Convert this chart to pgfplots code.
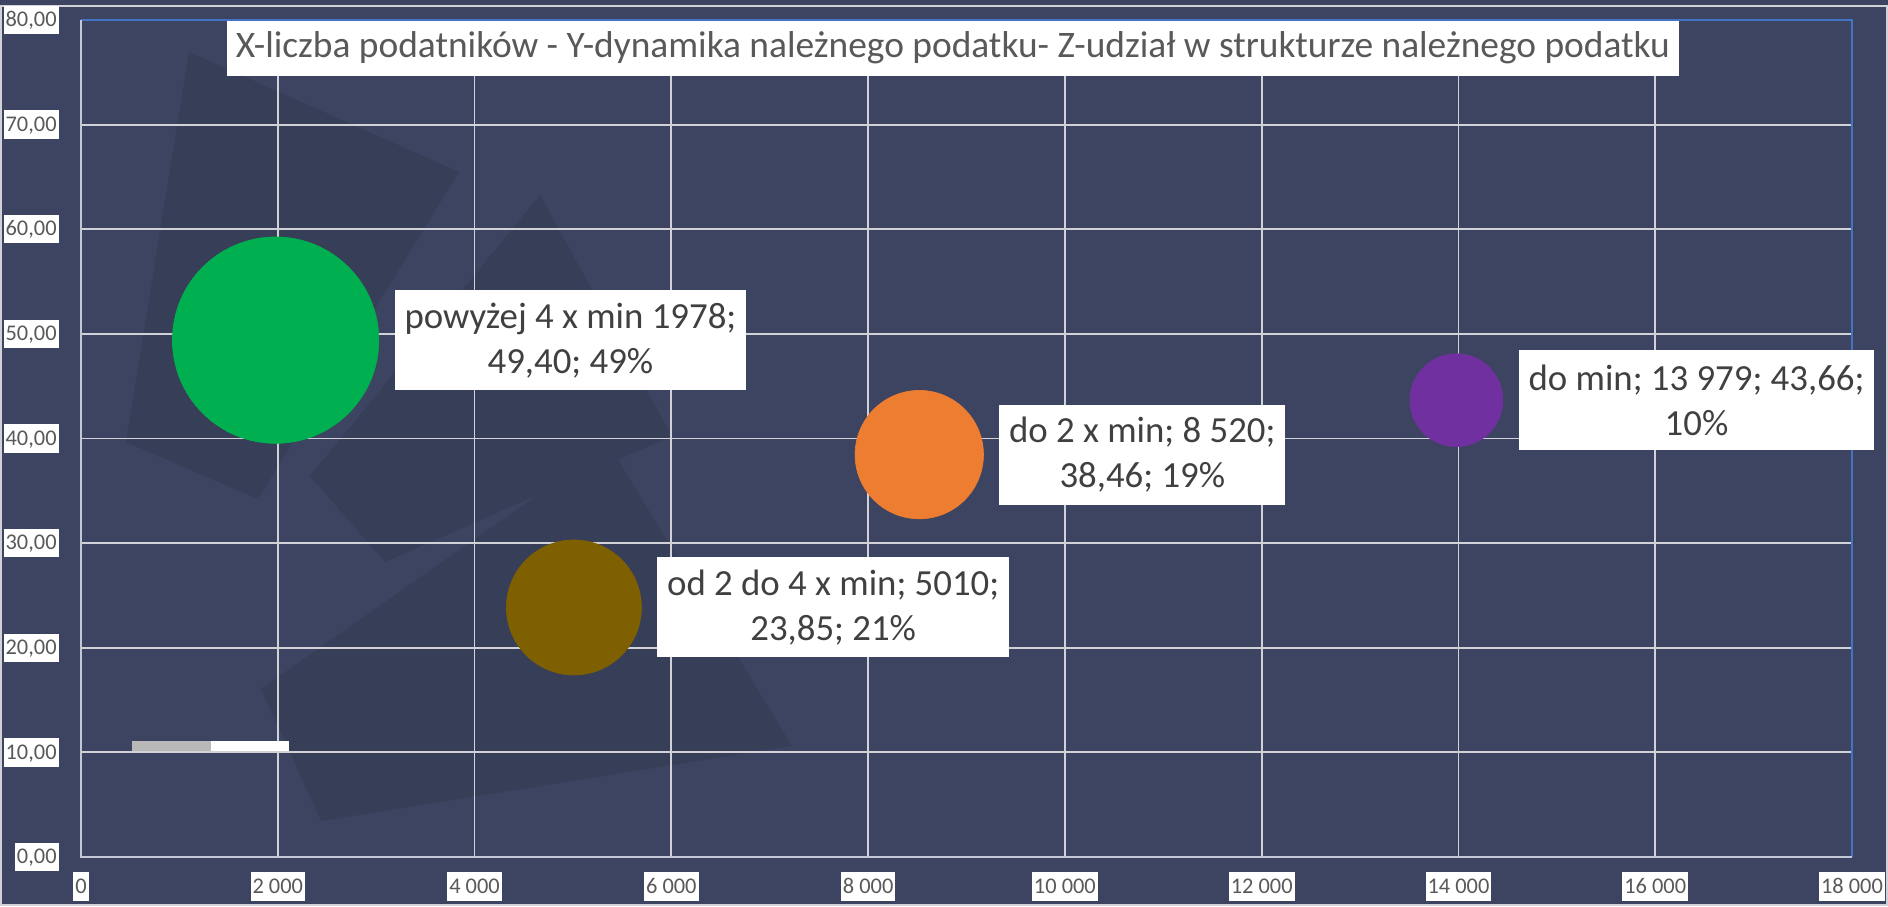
\documentclass[border=0pt]{standalone}
\usepackage{pgfplots}
\pgfplotsset{compat=1.18}
\usepackage{fontspec}
\setmainfont{Carlito}
\definecolor{bg}{HTML}{3C4461}
\definecolor{bgdark}{HTML}{373E58}
\definecolor{gridc}{HTML}{D0D2D8}
\definecolor{tickc}{HTML}{595959}
\definecolor{labc}{HTML}{404040}
\definecolor{bluec}{HTML}{4472C4}
\definecolor{axc}{HTML}{C3C8D4}
\definecolor{cgreen}{HTML}{00B050}
\definecolor{cbrown}{HTML}{7F6000}
\definecolor{corange}{HTML}{ED7D31}
\definecolor{cpurple}{HTML}{7030A0}
\begin{document}
\begin{tikzpicture}
\useasboundingbox (-40.5pt,-24.5pt) rectangle (903.5pt,428.5pt);
\fill[bg] (-40.5pt,-24.5pt) rectangle (903.5pt,428.5pt);
\fill[bgdark] (54pt,402.5pt) -- (189pt,342.5pt) -- (88.5pt,179pt) -- (22.5pt,207.5pt) -- cycle;
\fill[bgdark] (114.5pt,190.5pt) -- (229.5pt,331pt) -- (295.5pt,210.5pt) -- (152pt,147.5pt) -- cycle;
\fill[bgdark] (90pt,84pt) -- (264pt,206pt) -- (355.5pt,55.5pt) -- (120pt,18pt) -- cycle;
\draw[gridc, line width=0.8pt] (-40pt,-24pt) rectangle (903pt,425.5pt);
\begin{axis}[
  at={(0,0)}, anchor=south west,
  scale only axis, width=885.5pt, height=418.5pt,
  xmin=0, xmax=18000, ymin=0, ymax=80,
  xtick={0,2000,...,18000}, ytick={0,10,...,80},
  scaled x ticks=false, scaled y ticks=false,
  clip=false,
  axis line style={draw=none},
  major tick length=0pt,
  grid=major,
  major grid style={gridc, line width=0.9pt},
  /pgf/number format/assume math mode=true,
  xticklabel style={/pgf/number format/.cd, fixed, precision=0, 1000 sep={\ }},
  yticklabel style={/pgf/number format/.cd, fixed, fixed zerofill, precision=2, use comma},
  ticklabel style={font=\fontsize{11.2}{13}\selectfont, text=tickc, fill=white, inner xsep=1pt, inner ysep=3.25pt, text height=7.2pt, text depth=0.5pt},
  xticklabel shift=7.5pt,
  yticklabel shift=11pt,
]
\draw[bluec, line width=0.6pt] (rel axis cs:0,1) -- (rel axis cs:1,1) -- (rel axis cs:1,0);
\draw[axc, line width=1pt] (rel axis cs:0,1) -- (rel axis cs:0,0) -- (rel axis cs:1,0);
\fill[gray!55] (axis cs:518,10.13) rectangle (axis cs:1321,11.09);
\fill[white] (axis cs:1321,10.13) rectangle (axis cs:2114,11.09);
% bubbles: mark radius = 51.75pt * sqrt(z/49)
\addplot[color=cgreen, only marks, mark=*, mark size=51.6pt, mark options={fill=cgreen, draw=cgreen, line width=0.3pt}] coordinates {(1978,49.40)};
\addplot[color=cbrown, only marks, mark=*, mark size=33.75pt, mark options={fill=cbrown, draw=cbrown, line width=0.3pt}] coordinates {(5010,23.85)};
\addplot[color=corange, only marks, mark=*, mark size=32.1pt, mark options={fill=corange, draw=corange, line width=0.3pt}] coordinates {(8520,38.46)};
\addplot[color=cpurple, only marks, mark=*, mark size=23.25pt, mark options={fill=cpurple, draw=cpurple, line width=0.3pt}] coordinates {(13979,43.66)};
\tikzset{lab/.style={fill=white, text=labc, align=center, anchor=west, inner xsep=5pt, inner ysep=0pt, minimum height=50pt, font=\fontsize{18.4}{22.5}\selectfont}}
\node[lab, xshift=59.25pt] at (axis cs:1978,49.40) {powyżej 4 x min 1978;\\49,40; 49\%};
\node[lab, xshift=41.4pt] at (axis cs:5010,23.85) {od 2 do 4 x min; 5010;\\23,85; 21\%};
\node[lab, xshift=39.7pt] at (axis cs:8520,38.46) {do 2 x min; 8 520;\\38,46; 19\%};
\node[lab, xshift=30.9pt] at (axis cs:13979,43.66) {do min; 13 979; 43,66;\\10\%};
\end{axis}
\node[fill=white, text=tickc, inner xsep=4.5pt, inner ysep=4.5pt, text height=13.8pt, text depth=4.7pt, font=\fontsize{18.7}{22}\selectfont] at (436pt,404.25pt) {X-liczba podatników - Y-dynamika należnego podatku- Z-udział w strukturze należnego podatku};
\end{tikzpicture}
\end{document}
